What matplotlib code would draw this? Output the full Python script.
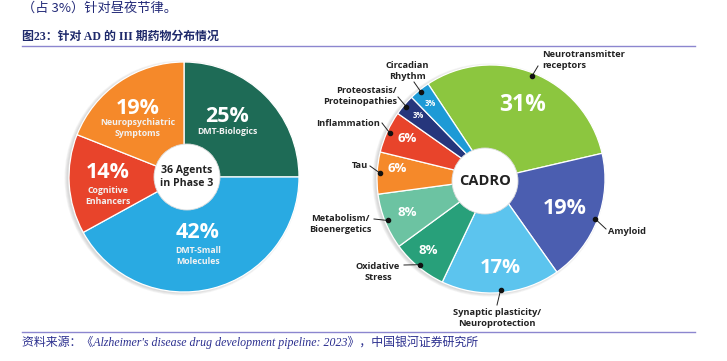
import matplotlib
matplotlib.use("Agg")
import matplotlib.pyplot as plt
from matplotlib.patches import Circle
import numpy as np

# ---------------- data ----------------
left_labels = ["DMT-Biologics", "DMT-Small\nMolecules", "Cognitive\nEnhancers", "Neuropsychiatric\nSymptoms"]
left_values = [25, 42, 14, 19]
left_colors = ["#1e6b56", "#29aae2", "#e8442b", "#f5892a"]
left_center_text = "36 Agents\nin Phase 3"

right_labels = ["Neurotransmitter\nreceptors", "Amyloid", "Synaptic plasticity/\nNeuroprotection",
                "Oxidative\nStress", "Metabolism/\nBioenergetics", "Tau", "Inflammation",
                "Proteostasis/\nProteinopathies", "Circadian\nRhythm"]
right_values = [31, 19, 17, 8, 8, 6, 6, 3, 3]
right_colors = ["#8cc63f", "#4b5eb0", "#5cc4ee", "#28a07a", "#6cc3a2", "#f5892a", "#e8442b",
                "#26367c", "#1d9ad6"]
right_center_text = "CADRO"

title = "图23：针对 AD 的 III 期药物分布情况"
top_text = "（占 3%）针对昼夜节律。"
source = "资料来源：《Alzheimer's disease drug development pipeline: 2023》，中国银河证券研究所"

# ---------------- figure ----------------
W, H = 727, 361
fig = plt.figure(figsize=(W / 100, H / 100), dpi=100)
ax = fig.add_axes([0, 0, 1, 1])
ax.set_xlim(0, W)
ax.set_ylim(0, H)
ax.axis("off")


def Y(y):
    return H - y


serif_cjk = ["Liberation Serif", "Noto Sans CJK SC"]
sans = ["Open Sans", "DejaVu Sans"]
navy = "#232a78"

# header / footer text
ax.text(22, Y(12), top_text, fontsize=9.5, color=navy, family=["Noto Sans CJK SC"],
        va="baseline", ha="left")
ax.text(22, Y(40), title, fontsize=8.6, color="#1f2a6b", family=serif_cjk,
        fontweight="bold", va="baseline", ha="left")
ax.plot([22, 695], [Y(46), Y(46)], color="#8c86cf", lw=1.0)
ax.plot([22, 695], [Y(332), Y(332)], color="#8c86cf", lw=1.0)
ax.text(22, Y(346), source, fontsize=8.6, color="#2b2f8f", family=serif_cjk,
        style="italic", va="baseline", ha="left")

# ---------------- left pie ----------------
lc, lr = (184, Y(177)), 115
for k in range(4):
    ax.add_patch(Circle((lc[0] - 2, lc[1] - 1), lr + 2.5 - k * 0.8, color="#9a9a9a",
                        alpha=0.10, lw=0, zorder=0))
ax.pie(left_values, colors=left_colors, startangle=90, counterclock=False,
       center=lc, radius=lr, frame=True,
       wedgeprops=dict(edgecolor="white", linewidth=0.9))
ax.set_xlim(0, W)
ax.set_ylim(0, H)
ax.set_aspect("auto")
ax.axis("off")
ax.add_patch(Circle((187, Y(177)), 33, facecolor="white", edgecolor="#dddddd", lw=0.6, zorder=5))
ax.text(187, Y(177), left_center_text, ha="center", va="center", fontsize=7.6,
        fontweight="bold", color="#222222", family=sans, zorder=6, linespacing=1.25)

left_pct_pos = [(227, 117), (198, 233), (108, 172), (138, 108)]
left_sub_pos = [(227, 132), (198, 256), (108, 196), (138, 128)]
for v, lab, (px, py), (sx, sy) in zip(left_values, left_labels, left_pct_pos, left_sub_pos):
    ax.text(px, Y(py), f"{v}%", ha="center", va="center", fontsize=15.5,
            fontweight="bold", color="white", family=sans, zorder=6)
    ax.text(sx, Y(sy), lab, ha="center", va="center", fontsize=6.3,
            fontweight="bold", color="#f2f2f2", family=sans, zorder=6, linespacing=1.15)

# ---------------- right pie ----------------
rc, rr = (491, Y(179)), 114
start = 123.5
for k in range(4):
    ax.add_patch(Circle((rc[0] - 2, rc[1] - 1), rr + 2.5 - k * 0.8, color="#9a9a9a",
                        alpha=0.10, lw=0, zorder=0))
ax.pie(right_values, colors=right_colors, startangle=start, counterclock=False,
       center=rc, radius=rr, frame=True,
       wedgeprops=dict(edgecolor="white", linewidth=0.9))
ax.set_xlim(0, W)
ax.set_ylim(0, H)
ax.set_aspect("auto")
ax.axis("off")
ax.add_patch(Circle((485, Y(181)), 33, facecolor="white", edgecolor="#dddddd", lw=0.6, zorder=5))
ax.text(485, Y(181), right_center_text, ha="center", va="center", fontsize=10.5,
        fontweight="bold", color="#222222", family=sans, zorder=6)

# percentages inside
right_pct_pos = [(523, 105), (565, 208), (500, 268), (428, 250), (407, 212),
                 (397, 168), (407, 138), (418, 115), (430, 103)]
right_pct_size = [16.5, 15.5, 14.5, 9.5, 9.5, 9.5, 9.5, 5.5, 5.5]
for v, (px, py), fs in zip(right_values, right_pct_pos, right_pct_size):
    ax.text(px, Y(py), f"{v}%", ha="center", va="center", fontsize=fs,
            fontweight="bold", color="white", family=sans, zorder=6)

# outer labels with dot + leader
total = float(sum(right_values))
angles = []
a = start
for v in right_values:
    span = v / total * 360.0
    angles.append(a - span / 2)
    a -= span

# (leader end x, y), (text x, y), ha
right_lab_layout = [
    ((538, 66), (542, 60), "left"),
    ((606, 229), (608, 231), "left"),
    ((497, 305), (497, 318), "center"),
    ((404, 265), (378, 272), "center"),
    ((374, 219), (340, 224), "center"),
    ((370, 166), (368, 165), "right"),
    ((382, 123), (380, 123), "right"),
    ((398, 97), (397, 96), "right"),
    ((414, 82), (407, 71), "center"),
]
for ang, lab, (lend, tpos, ha) in zip(angles, right_labels, right_lab_layout):
    th = np.deg2rad(ang)
    dx = rc[0] + 0.975 * rr * np.cos(th)
    dy = rc[1] + 0.975 * rr * np.sin(th)
    ax.plot([dx, lend[0]], [dy, Y(lend[1])], color="#222222", lw=0.7, zorder=7)
    ax.plot([dx], [dy], "o", color="#111111", ms=3.0, zorder=8)
    ax.text(tpos[0], Y(tpos[1]), lab, ha=ha, va="center", fontsize=6.7,
            fontweight="bold", color="#222222", family=sans, zorder=8, linespacing=1.15)

fig.savefig("out.png", dpi=100)
